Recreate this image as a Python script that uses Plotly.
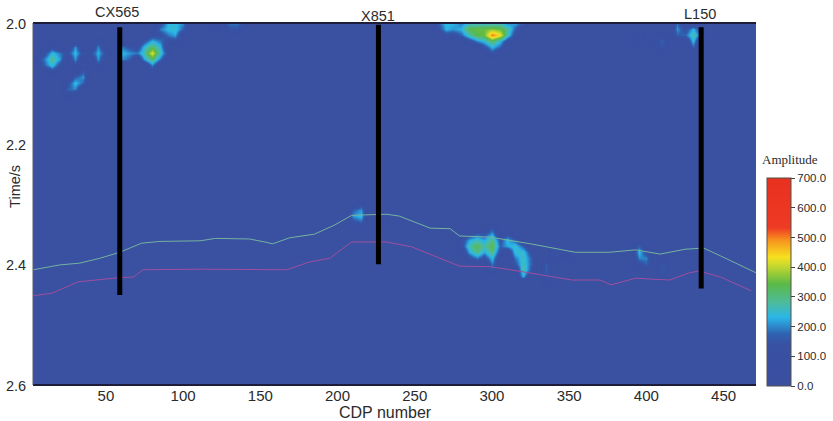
import plotly.graph_objects as go

# Reflector horizons
green_cdp = [3,20,33,46,59,73,85,111,121,143,153,158,169,185,198,209,218,232,240,260,273,279,299,325,354,376,393,409,425,437,448,471]
green_time = [2.409,2.401,2.398,2.390,2.380,2.365,2.362,2.361,2.357,2.358,2.363,2.366,2.356,2.350,2.335,2.319,2.318,2.317,2.320,2.340,2.341,2.353,2.355,2.366,2.380,2.380,2.376,2.383,2.375,2.373,2.386,2.414]
magenta_cdp = [3,15,32,59,68,74,111,150,167,182,195,209,232,248,279,299,312,352,370,377,393,415,428,434,448,468]
magenta_time = [2.452,2.448,2.429,2.422,2.421,2.409,2.408,2.409,2.409,2.396,2.390,2.363,2.363,2.371,2.403,2.404,2.409,2.426,2.426,2.434,2.423,2.426,2.414,2.411,2.421,2.444]

# Well markers
well_names = ["CX565", "X851", "L150"]
well_cdp = [59, 226.5, 435.5]
well_label_cdp = [57.5, 226.5, 435]
well_top = [2.007, 2.003, 2.007]
well_bottom = [2.451, 2.40, 2.44]
well_label_y = [1.0304, 1.0193, 1.0249]

# Grid
grid_cdp = list(range(0, 480, 5))
grid_time = [round(2 + i * 0.01, 2) for i in range(61)]
background_amp = 55

# Amplitude anomalies: each row is a time, the CDP of
# its first cell, and the amplitudes of consecutive cells (5 CDP apart).
row_time = [
    2.04, 2.05, 2.06, 2.07, 2.08,
    2.04, 2.05, 2.06, 2.07,
    2.03, 2.04, 2.05, 2.06, 2.07,
    2.08, 2.09, 2.10, 2.11, 2.12,
    2.04, 2.05, 2.06,
    2.02, 2.03, 2.04, 2.05, 2.06, 2.07, 2.08,
    2.00, 2.01, 2.02, 2.03,
    2.00, 2.01,
    2.00, 2.01, 2.02,
    2.00, 2.01, 2.02, 2.03, 2.04, 2.05,
    2.00, 2.01, 2.02, 2.03, 2.04,
    2.02, 2.03, 2.02, 2.03, 2.04,
    2.30, 2.31, 2.32, 2.33, 2.32, 2.33,
    2.34, 2.35, 2.36, 2.37, 2.38, 2.39, 2.40, 2.41, 2.42, 2.43,
    2.37, 2.38, 2.39,
    2.37, 2.38, 2.39, 2.40,
    2.39, 2.40, 2.41, 2.42,
]
row_start = [
    15, 10, 5, 10, 15,
    30, 25, 30, 30,
    45, 45, 40, 45, 45,
    35, 30, 25, 25, 25,
    60, 60, 60,
    80, 75, 70, 70, 75, 80, 80,
    85, 85, 85, 90,
    130, 120,
    265, 265, 270,
    280, 280, 280, 285, 295, 300,
    420, 420, 420, 430, 430,
    395, 395, 410, 405, 410,
    215, 210, 210, 210, 230, 230,
    300, 285, 280, 280, 285, 285, 300, 300, 320, 335,
    340, 340, 340,
    395, 395, 395, 395,
    410, 410, 410, 410,
]
row_amps = [
    [130], [130,240,190], [110,190,290,210], [170,250,130], [130],
    [210], [130,240,130], [210], [130],
    [120], [200], [130,230,130], [210], [130],
    [160], [170,210], [130,240,170], [170,200], [120],
    [200,150], [240,210], [210,170],
    [130], [150,230,190], [120,240,320,240], [190,270,420,260,120], [220,320,190], [200], [110],
    [130,230,240,200], [190,240,250,170], [130,190,220], [110,130],
    [190,190,130], [130,55,140,150],
    [170,240,230], [130,230,210], [130,120],
    [190,250,250,245,250,250,200,220,170], [230,340,350,350,370,350,290,170], [170,270,340,350,500,430,270,120],
    [120,200,240,320,240,120], [140,230,170], [150],
    [180], [210,130,230,130], [170,170,280,170], [240], [170],
    [140], [130], [120], [110,170], [150],
    [130], [170,210], [210,240], [130,170], [125], [110],
    [150],
    [130,170,150,220,55,130],
    [120,220,260,220,300,150,240,170],
    [120,270,330,270,340,170,220,250,170],
    [220,300,220,300,130,55,250,250,130],
    [130,190,130,240,55,55,190,260,170],
    [190,55,55,150,270,170,55,165],
    [150,55,55,55,285,150,55,170],
    [230,55,55,150], [120],
    [130], [140,120], [130,55,110],
    [170], [240,130], [200,200], [120,170],
    [110], [140], [160], [130],
]

# Colour bar
bar_ticks = [0, 100, 200, 300, 400, 500, 600, 700]
bar_labels = ["0.0", "100.0", "200.0", "300.0", "400.0", "500.0", "600.0", "700.0"]
x_ticks = [50, 100, 150, 200, 250, 300, 350, 400, 450]
y_ticks = [2.0, 2.2, 2.4, 2.6]
y_labels = ["2.0", "2.2", "2.4", "2.6"]

colorscale = [
    [0.0, "#3b4fa0"], [0.20, "#3851a3"], [0.25, "#2f62b2"], [0.33, "#2ab6e8"],
    [0.40, "#4dbb9c"], [0.49, "#5ab947"], [0.58, "#c9d92e"], [0.62, "#f6e01f"],
    [0.70, "#f7941d"], [0.76, "#ee3b24"], [1.0, "#e8301f"],
]

z = [[background_amp for _ in grid_cdp] for _ in grid_time]
for t, start, amps in zip(row_time, row_start, row_amps):
    for i, a in enumerate(amps):
        z[grid_time.index(t)][grid_cdp.index(start + 5 * i)] = a

FONT = "Liberation Sans, Arial, sans-serif"
TEXT = "#2b2b2b"

fig = go.Figure()
fig.add_trace(go.Heatmap(
    x=grid_cdp, y=grid_time, z=z, zmin=0, zmax=700, zsmooth="best",
    colorscale=colorscale, hoverinfo="skip",
    colorbar=dict(
        x=1.0152, xanchor="left", y=-0.003, yanchor="bottom",
        thickness=24, thicknessmode="pixels", len=208, lenmode="pixels",
        outlinecolor="#55504c", outlinewidth=1, xpad=0, ypad=0,
        tickmode="array", tickvals=bar_ticks, ticktext=bar_labels,
        ticks="outside", ticklen=4, tickcolor="#444444",
        tickfont=dict(family=FONT, size=11.5, color=TEXT),
    ),
))
fig.add_trace(go.Scatter(x=green_cdp, y=green_time, mode="lines",
                         line=dict(color="#74b3a0", width=1), hoverinfo="skip", showlegend=False))
fig.add_trace(go.Scatter(x=magenta_cdp, y=magenta_time, mode="lines",
                         line=dict(color="#a04f9e", width=1), hoverinfo="skip", showlegend=False))
for c, top, bottom in zip(well_cdp, well_top, well_bottom):
    fig.add_trace(go.Scatter(x=[c, c], y=[top, bottom], mode="lines",
                             line=dict(color="#000000", width=5), hoverinfo="skip", showlegend=False))

for name, c, yp in zip(well_names, well_label_cdp, well_label_y):
    fig.add_annotation(x=c, y=yp, xref="x", yref="paper", xanchor="center", yanchor="middle",
                       text=name, showarrow=False, font=dict(family=FONT, size=14.5, color=TEXT))
fig.add_annotation(x=1.047, y=0.623, xref="paper", yref="paper", xanchor="center", yanchor="middle",
                   text="Amplitude", showarrow=False,
                   font=dict(family="Liberation Serif, Times New Roman, serif", size=13, color=TEXT))
fig.add_annotation(x=0.487, y=-0.0746, xref="paper", yref="paper", xanchor="center", yanchor="middle",
                   text="CDP number", showarrow=False, font=dict(family=FONT, size=16, color=TEXT))
fig.add_annotation(x=-0.0249, y=0.55, xref="paper", yref="paper", xanchor="center", yanchor="middle",
                   text="Time/s", textangle=-90, showarrow=False, font=dict(family=FONT, size=14.5, color=TEXT))

fig.update_layout(
    width=833, height=421, margin=dict(l=33, r=77, t=23, b=36, autoexpand=False),
    paper_bgcolor="#ffffff", plot_bgcolor="#3b4fa0", showlegend=False,
    xaxis=dict(range=[2.8, 471], tickmode="array", tickvals=x_ticks, ticks="", ticklabelstandoff=0,
               showgrid=False, zeroline=False, automargin=False,
               tickfont=dict(family=FONT, size=15, color=TEXT)),
    yaxis=dict(range=[2.6, 2.0], tickmode="array", tickvals=y_ticks, ticktext=y_labels, ticks="outside", ticklen=3,
               tickcolor="rgba(0,0,0,0)", showgrid=False, zeroline=False, automargin=False, ticklabelshift=-1,
               tickfont=dict(family=FONT, size=14.5, color=TEXT)),
    shapes=[
        dict(type="line", xref="paper", yref="paper", x0=0, x1=1, y0=1, y1=1, line=dict(color="#1d1d3a", width=2)),
        dict(type="line", xref="paper", yref="paper", x0=0, x1=1, y0=0, y1=0, line=dict(color="#1d1d3a", width=2)),
        dict(type="line", xref="paper", yref="paper", x0=0, x1=0, y0=0, y1=1, line=dict(color="#5a5a6a", width=1)),
    ],
)

fig.write_html("out.html", config={"displayModeBar": False},
               post_script="document.body.style.margin='0';document.body.style.overflow='hidden';")
